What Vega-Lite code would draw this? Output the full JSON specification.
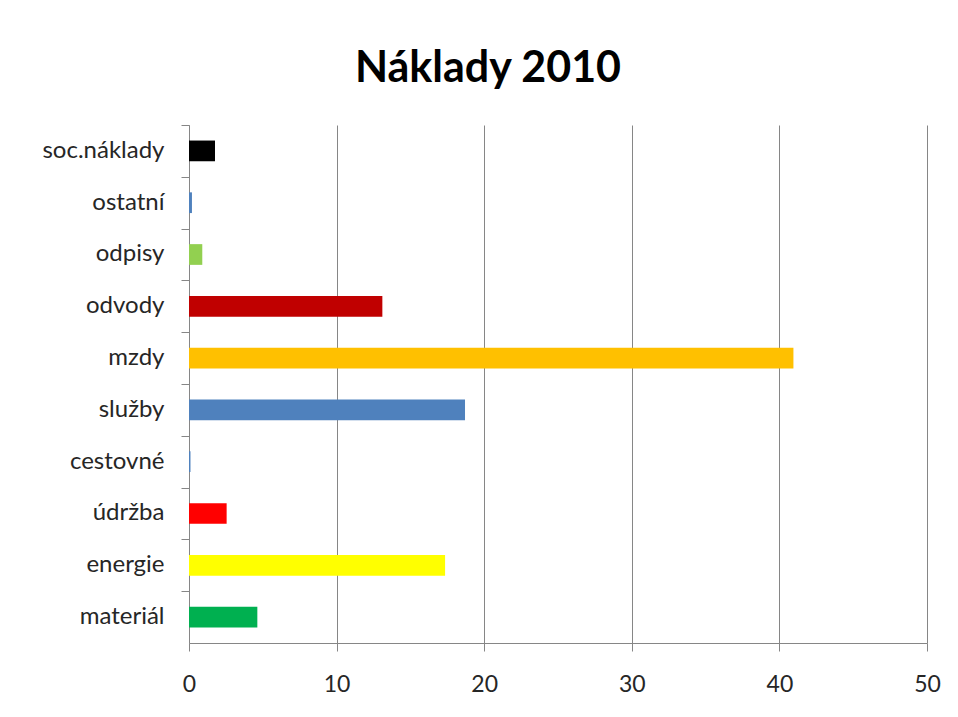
{
  "$schema": "https://vega.github.io/schema/vega-lite/v6.json",
  "autosize": "none",
  "width": 738,
  "height": 518,
  "padding": {"left": 189, "top": 125, "right": 31, "bottom": 74},
  "background": "white",
  "title": {
    "text": "Náklady 2010",
    "font": "Lato",
    "fontSize": 43,
    "fontWeight": "bold",
    "color": "#000000",
    "anchor": "middle",
    "frame": "group",
    "dx": -70,
    "offset": 34
  },
  "data": {
    "values": [
      {"kategorie": "soc.náklady", "hodnota": 1.76},
      {"kategorie": "ostatní", "hodnota": 0.2},
      {"kategorie": "odpisy", "hodnota": 0.9},
      {"kategorie": "odvody", "hodnota": 13.1},
      {"kategorie": "mzdy", "hodnota": 40.95},
      {"kategorie": "služby", "hodnota": 18.7},
      {"kategorie": "cestovné", "hodnota": 0.1},
      {"kategorie": "údržba", "hodnota": 2.55},
      {"kategorie": "energie", "hodnota": 17.35},
      {"kategorie": "materiál", "hodnota": 4.63}
    ]
  },
  "mark": {"type": "bar", "orient": "horizontal"},
  "encoding": {
    "y": {
      "field": "kategorie",
      "type": "nominal",
      "sort": null,
      "title": null,
      "scale": {"paddingInner": 0.6, "paddingOuter": 0.3},
      "axis": {
        "bandPosition": 0,
        "tickOffset": -15.54,
        "labelOffset": 15,
        "tickSize": 8,
        "tickColor": "#868686",
        "domainColor": "#868686",
        "labelFont": "Lato",
        "labelFontSize": 24,
        "labelColor": "#262626",
        "labelPadding": 17,
        "grid": false
      }
    },
    "x": {
      "field": "hodnota",
      "type": "quantitative",
      "title": null,
      "scale": {"domain": [0, 50], "nice": false},
      "axis": {
        "values": [0, 10, 20, 30, 40, 50],
        "tickSize": 8,
        "tickColor": "#868686",
        "domainColor": "#868686",
        "gridColor": "#868686",
        "grid": true,
        "labelFont": "Lato",
        "labelFontSize": 23,
        "labelColor": "#262626",
        "labelPadding": 22,
        "labelFlush": false
      }
    },
    "color": {
      "field": "kategorie",
      "type": "nominal",
      "legend": null,
      "scale": {
        "domain": ["soc.náklady", "ostatní", "odpisy", "odvody", "mzdy", "služby", "cestovné", "údržba", "energie", "materiál"],
        "range": ["#000000", "#4F81BD", "#92D050", "#C00000", "#FFC000", "#4F81BD", "#4F81BD", "#FF0000", "#FFFF00", "#00B050"]
      }
    }
  },
  "config": {
    "view": {"stroke": null}
  }
}
